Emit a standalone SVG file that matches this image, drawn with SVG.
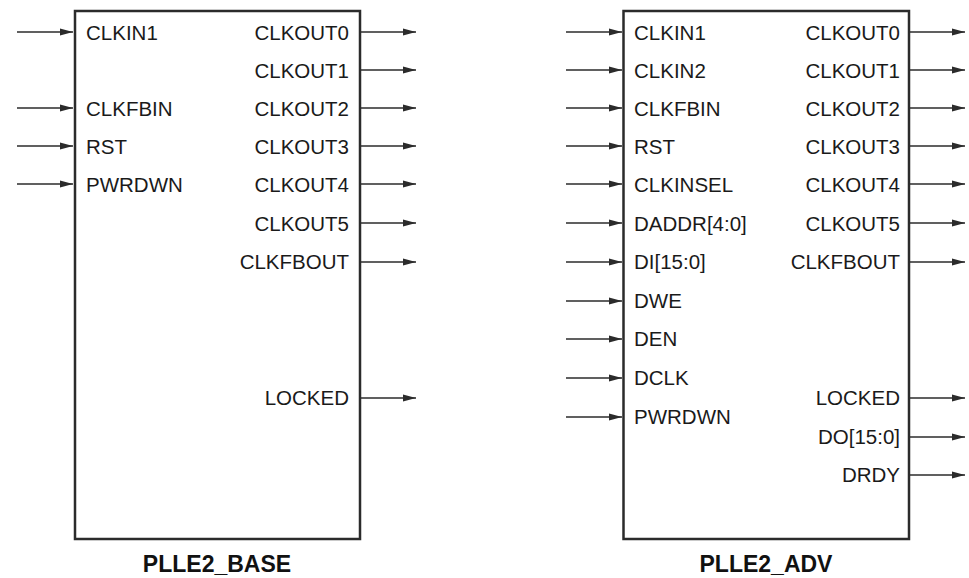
<svg xmlns="http://www.w3.org/2000/svg" width="969" height="578" viewBox="0 0 969 578">
<style>
.box{fill:#fff;stroke:#2b2b2b;stroke-width:2.5}
.lbl{font-family:"Liberation Sans",Arial,sans-serif;font-size:20.5px;fill:#1a1a1a}
.r{text-anchor:end}
.ttl{font-family:"Liberation Sans",Arial,sans-serif;font-size:23px;font-weight:bold;fill:#111;text-anchor:middle}
.w{stroke:#2b2b2b;stroke-width:1.4;fill:none;marker-end:url(#ah)}
</style>
<defs>
<marker id="ah" markerUnits="userSpaceOnUse" markerWidth="14" markerHeight="10" refX="13" refY="4" orient="auto">
<path d="M0,0.5 L13,4 L0,7.5 Z" fill="#2b2b2b"/>
</marker>
</defs>
<rect width="969" height="578" fill="#fff"/>
<g id="base">
<rect class="box" x="75" y="11" width="285" height="528"/>
<text class="lbl" x="86" y="40">CLKIN1</text>
<text class="lbl" x="86" y="116">CLKFBIN</text>
<text class="lbl" x="86" y="154">RST</text>
<text class="lbl" x="86" y="192">PWRDWN</text>
<text class="lbl r" x="349" y="40">CLKOUT0</text>
<text class="lbl r" x="349" y="78">CLKOUT1</text>
<text class="lbl r" x="349" y="116">CLKOUT2</text>
<text class="lbl r" x="349" y="154">CLKOUT3</text>
<text class="lbl r" x="349" y="192">CLKOUT4</text>
<text class="lbl r" x="349" y="231">CLKOUT5</text>
<text class="lbl r" x="349" y="269">CLKFBOUT</text>
<text class="lbl r" x="349" y="405">LOCKED</text>
<text class="ttl" x="217" y="572">PLLE2_BASE</text>
</g>
<g id="adv">
<rect class="box" x="623.5" y="11" width="285.5" height="528"/>
<text class="lbl" x="634" y="40">CLKIN1</text>
<text class="lbl" x="634" y="78">CLKIN2</text>
<text class="lbl" x="634" y="116">CLKFBIN</text>
<text class="lbl" x="634" y="154">RST</text>
<text class="lbl" x="634" y="192">CLKINSEL</text>
<text class="lbl" x="634" y="231">DADDR[4:0]</text>
<text class="lbl" x="634" y="269">DI[15:0]</text>
<text class="lbl" x="634" y="308">DWE</text>
<text class="lbl" x="634" y="346">DEN</text>
<text class="lbl" x="634" y="385">DCLK</text>
<text class="lbl" x="634" y="424">PWRDWN</text>
<text class="lbl r" x="900" y="40">CLKOUT0</text>
<text class="lbl r" x="900" y="78">CLKOUT1</text>
<text class="lbl r" x="900" y="116">CLKOUT2</text>
<text class="lbl r" x="900" y="154">CLKOUT3</text>
<text class="lbl r" x="900" y="192">CLKOUT4</text>
<text class="lbl r" x="900" y="231">CLKOUT5</text>
<text class="lbl r" x="900" y="269">CLKFBOUT</text>
<text class="lbl r" x="900" y="405">LOCKED</text>
<text class="lbl r" x="900" y="444">DO[15:0]</text>
<text class="lbl r" x="900" y="482">DRDY</text>
<text class="ttl" x="766" y="572">PLLE2_ADV</text>
</g>
<g id="connectors">
<line class="w" x1="17" y1="32" x2="73" y2="32"/>
<line class="w" x1="17" y1="108" x2="73" y2="108"/>
<line class="w" x1="17" y1="146" x2="73" y2="146"/>
<line class="w" x1="17" y1="184" x2="73" y2="184"/>
<line class="w" x1="361" y1="32" x2="416" y2="32"/>
<line class="w" x1="361" y1="70" x2="416" y2="70"/>
<line class="w" x1="361" y1="108" x2="416" y2="108"/>
<line class="w" x1="361" y1="146" x2="416" y2="146"/>
<line class="w" x1="361" y1="184" x2="416" y2="184"/>
<line class="w" x1="361" y1="223" x2="416" y2="223"/>
<line class="w" x1="361" y1="262" x2="416" y2="262"/>
<line class="w" x1="361" y1="398" x2="416" y2="398"/>
<line class="w" x1="566" y1="32" x2="622" y2="32"/>
<line class="w" x1="566" y1="70" x2="622" y2="70"/>
<line class="w" x1="566" y1="108" x2="622" y2="108"/>
<line class="w" x1="566" y1="146" x2="622" y2="146"/>
<line class="w" x1="566" y1="184" x2="622" y2="184"/>
<line class="w" x1="566" y1="223" x2="622" y2="223"/>
<line class="w" x1="566" y1="262" x2="622" y2="262"/>
<line class="w" x1="566" y1="301" x2="622" y2="301"/>
<line class="w" x1="566" y1="339" x2="622" y2="339"/>
<line class="w" x1="566" y1="378" x2="622" y2="378"/>
<line class="w" x1="566" y1="417" x2="622" y2="417"/>
<line class="w" x1="910" y1="32" x2="965" y2="32"/>
<line class="w" x1="910" y1="70" x2="965" y2="70"/>
<line class="w" x1="910" y1="108" x2="965" y2="108"/>
<line class="w" x1="910" y1="146" x2="965" y2="146"/>
<line class="w" x1="910" y1="184" x2="965" y2="184"/>
<line class="w" x1="910" y1="223" x2="965" y2="223"/>
<line class="w" x1="910" y1="262" x2="965" y2="262"/>
<line class="w" x1="910" y1="398" x2="965" y2="398"/>
<line class="w" x1="910" y1="437" x2="965" y2="437"/>
<line class="w" x1="910" y1="475" x2="965" y2="475"/>
</g>
</svg>
